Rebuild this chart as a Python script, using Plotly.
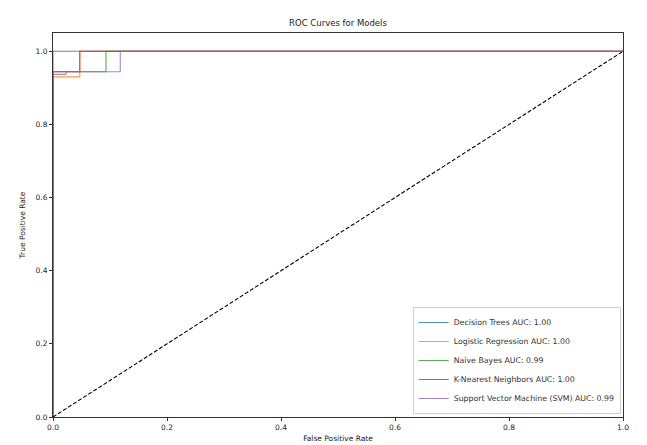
import plotly.graph_objects as go

# ROC curve points
model_names = ["Decision Trees", "Logistic Regression", "Naive Bayes",
               "K-Nearest Neighbors", "Support Vector Machine (SVM)"]
auc_labels = ["1.00", "1.00", "0.99", "1.00", "0.99"]

dt_fpr = [0.0, 0.0, 1.0]
dt_tpr = [0.0, 1.0, 1.0]

lr_fpr = [0.0, 0.0, 0.047, 0.047, 1.0]
lr_tpr = [0.0, 0.930, 0.930, 1.0, 1.0]

nb_fpr = [0.0, 0.0, 0.093, 0.093, 1.0]
nb_tpr = [0.0, 0.944, 0.944, 1.0, 1.0]

knn_fpr = [0.0, 0.0, 0.047, 0.047, 1.0]
knn_tpr = [0.0, 0.944, 0.944, 1.0, 1.0]

svm_fpr = [0.0, 0.0, 0.023, 0.023, 0.118, 0.118, 1.0]
svm_tpr = [0.0, 0.937, 0.937, 0.944, 0.944, 1.0, 1.0]

chance_fpr = [0.0, 1.0]
chance_tpr = [0.0, 1.0]

x_ticks = [0.0, 0.2, 0.4, 0.6, 0.8, 1.0]
y_ticks = [0.0, 0.2, 0.4, 0.6, 0.8, 1.0]
tick_text = ["0.0", "0.2", "0.4", "0.6", "0.8", "1.0"]

colors = ["#1f77b4", "#ff7f0e", "#2ca02c", "#d62728", "#9467bd"]

curves = [(dt_fpr, dt_tpr), (lr_fpr, lr_tpr), (nb_fpr, nb_tpr),
          (knn_fpr, knn_tpr), (svm_fpr, svm_tpr)]

fig = go.Figure()
for (fx, ty), name, auc, col in zip(curves, model_names, auc_labels, colors):
    fig.add_trace(go.Scatter(x=fx, y=ty, mode="lines",
                             name=f"{name} AUC: {auc}", opacity=0.8,
                             line=dict(color=col, width=1.1)))

fig.add_trace(go.Scatter(x=chance_fpr, y=chance_tpr, mode="lines",
                         showlegend=False,
                         line=dict(color="black", width=1.1, dash="4px,2px")))

font = "DejaVu Sans, Liberation Sans, sans-serif"
fig.update_layout(
    width=647, height=445,
    margin=dict(l=45, r=32, t=25, b=27),
    paper_bgcolor="white", plot_bgcolor="white",
    font=dict(family=font, size=7.5, color="#222"),
    title=dict(text="ROC Curves for Models", x=0.5, xanchor="center",
               xref="paper", y=0.967, yanchor="middle",
               font=dict(size=8.5, color="#222")),
    legend=dict(x=0.996, y=0.008, xanchor="right", yanchor="bottom",
                bgcolor="rgba(255,255,255,0.8)", bordercolor="#d0d0d0",
                borderwidth=1, font=dict(size=7.8, color="#333"),
                itemwidth=30, tracegroupgap=0),
    showlegend=True,
)
fig.update_xaxes(range=[0, 1], tickvals=x_ticks, ticktext=tick_text,
                 showline=True, linecolor="#333", linewidth=1, mirror=True,
                 ticks="outside", ticklen=3, tickcolor="#333", showgrid=False,
                 zeroline=False, layer="above traces",
                 title=dict(text="False Positive Rate", standoff=4, font=dict(size=7.5)))
fig.update_yaxes(range=[0, 1.05], tickvals=y_ticks, ticktext=tick_text,
                 showline=True, linecolor="#333", linewidth=1, mirror=True,
                 ticks="outside", ticklen=3, tickcolor="#333", showgrid=False,
                 zeroline=False, layer="above traces",
                 title=dict(text="True Positive Rate", standoff=8, font=dict(size=7.5)))

fig.write_html("out.html")
